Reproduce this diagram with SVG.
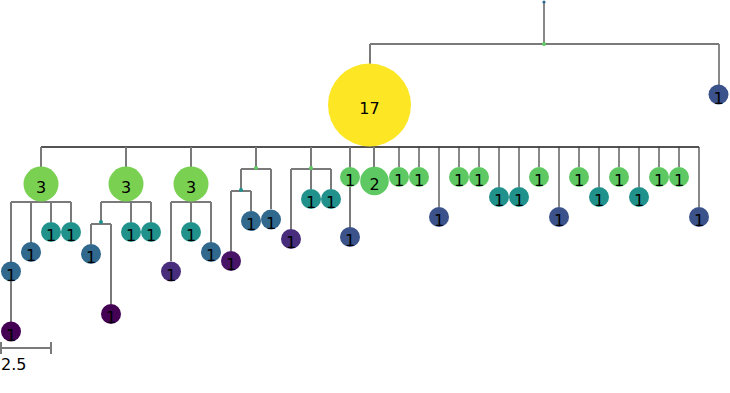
<svg xmlns="http://www.w3.org/2000/svg" width="730" height="393" viewBox="0 0 730 393">
<style>
.g{stroke:#7a7a7a;stroke-width:2;fill:none}
.d{stroke:#3a3a3a;stroke-width:1.2;fill:none}
.k{stroke:#1a1a1a;stroke-width:1.5;fill:none}
text{font-family:"DejaVu Sans",sans-serif;font-size:16px;fill:#000;text-anchor:middle}
.yel{fill:#fde725}.lg{fill:#7ad151}.gr{fill:#5ec962}.te{fill:#21918c}.bl{fill:#31688e}.db{fill:#3b528b}.pu{fill:#472d7b}.dp{fill:#440154}.dp2{fill:#481467}
</style>
<g id="connectors">
<path class="d" d="M544,2V44M719,44V85"/>
<path class="g" d="M370,44H719M370,44V64"/>
<path class="k" d="M41,147H699"/>
<path class="g" d="M41,147V167M126,147V167M191,147V167M256,147V169M311,147V169M350,147V237M374,147V167"/>
<path class="d" d="M399,147V167M419,147V167M439,147V207M459,147V167M479,147V167M499,147V187M519,147V187M539,147V167M559,147V207M579,147V167M599,147V187M619,147V167M639,147V187M659,147V167M679,147V167M699,147V207"/>
<path class="g" d="M11,202H71M11,202V331M31,202V243M51,202V222M71,202V222"/>
<path class="g" d="M101,202H151M101,202V224M91,224H111M91,224V244M111,224V304M131,202V222M151,202V222"/>
<path class="g" d="M171,202H211M171,202V261M191,202V222M211,202V242"/>
<path class="g" d="M241,169H271M241,169V191M231,191H251M231,191V251M251,191V211M271,169V209"/>
<path class="g" d="M291,169H331M291,169V229M311,169V189M331,169V189"/>
<path class="g" d="M1,348H51M1,342V354M51,342V354"/>
<circle cx="544" cy="2" r="1.6" class="bl"/>
<circle cx="544" cy="44" r="2" class="gr"/>
<circle cx="256" cy="168" r="2" class="gr"/>
<circle cx="311" cy="168" r="2" class="gr"/>
<circle cx="241" cy="190" r="2" class="te"/>
<circle cx="101" cy="222" r="2" class="te"/>
</g>
<g id="n17"><circle cx="369.5" cy="105" r="41.5" class="yel"/><text x="369.5" y="114">17</text></g>
<g id="nr"><circle cx="718.5" cy="94.5" r="10" class="db"/><text x="718.5" y="103.5">1</text></g>
<g id="a3"><circle cx="41" cy="184" r="17.5" class="lg"/><text x="41" y="193">3</text></g>
<g id="a1"><circle cx="11" cy="271.5" r="10" class="bl"/><text x="11" y="280.5">1</text></g>
<g id="a2"><circle cx="11" cy="331.5" r="10" class="dp"/><text x="11" y="340.5">1</text></g>
<g id="a4"><circle cx="31" cy="252" r="10" class="bl"/><text x="31" y="261">1</text></g>
<g id="a5"><circle cx="51" cy="232" r="10" class="te"/><text x="51" y="241">1</text></g>
<g id="a6"><circle cx="71" cy="232" r="10" class="te"/><text x="71" y="241">1</text></g>
<g id="b3"><circle cx="126" cy="184" r="17.5" class="lg"/><text x="126" y="193">3</text></g>
<g id="b1"><circle cx="91" cy="254" r="10" class="bl"/><text x="91" y="263">1</text></g>
<g id="b2"><circle cx="111" cy="314" r="10" class="dp"/><text x="111" y="323">1</text></g>
<g id="b4"><circle cx="131" cy="232" r="10" class="te"/><text x="131" y="241">1</text></g>
<g id="b5"><circle cx="151" cy="232" r="10" class="te"/><text x="151" y="241">1</text></g>
<g id="c3"><circle cx="191" cy="184" r="17.5" class="lg"/><text x="191" y="193">3</text></g>
<g id="c1"><circle cx="171" cy="271.5" r="10" class="pu"/><text x="171" y="280.5">1</text></g>
<g id="c2"><circle cx="191" cy="232" r="10" class="te"/><text x="191" y="241">1</text></g>
<g id="c4"><circle cx="211" cy="252" r="10" class="bl"/><text x="211" y="261">1</text></g>
<g id="d1"><circle cx="231" cy="261" r="10" class="dp2"/><text x="231" y="270">1</text></g>
<g id="d2"><circle cx="251" cy="221" r="10" class="bl"/><text x="251" y="230">1</text></g>
<g id="d3"><circle cx="271" cy="219.5" r="10" class="bl"/><text x="271" y="228.5">1</text></g>
<g id="e1"><circle cx="291" cy="239" r="10" class="pu"/><text x="291" y="248">1</text></g>
<g id="e2"><circle cx="311" cy="199" r="10" class="te"/><text x="311" y="208">1</text></g>
<g id="e3"><circle cx="331" cy="199" r="10" class="te"/><text x="331" y="208">1</text></g>
<g id="f1"><circle cx="350" cy="177" r="10" class="gr"/><text x="350" y="186">1</text></g>
<g id="f2"><circle cx="350" cy="237" r="10" class="db"/><text x="350" y="246">1</text></g>
<g id="f3"><circle cx="374.5" cy="181" r="14.3" class="gr"/><text x="374.5" y="189.5">2</text></g>
<g id="g1"><circle cx="399" cy="177" r="10" class="gr"/><text x="399" y="186">1</text></g>
<g id="g2"><circle cx="419" cy="177" r="10" class="gr"/><text x="419" y="186">1</text></g>
<g id="g3"><circle cx="439" cy="217" r="10" class="db"/><text x="439" y="226">1</text></g>
<g id="g4"><circle cx="459" cy="177" r="10" class="gr"/><text x="459" y="186">1</text></g>
<g id="g5"><circle cx="479" cy="177" r="10" class="gr"/><text x="479" y="186">1</text></g>
<g id="g6"><circle cx="499" cy="197" r="10" class="te"/><text x="499" y="206">1</text></g>
<g id="g7"><circle cx="519" cy="197" r="10" class="te"/><text x="519" y="206">1</text></g>
<g id="g8"><circle cx="539" cy="177" r="10" class="gr"/><text x="539" y="186">1</text></g>
<g id="g9"><circle cx="559" cy="217" r="10" class="db"/><text x="559" y="226">1</text></g>
<g id="g10"><circle cx="579" cy="177" r="10" class="gr"/><text x="579" y="186">1</text></g>
<g id="g11"><circle cx="599" cy="197" r="10" class="te"/><text x="599" y="206">1</text></g>
<g id="g12"><circle cx="619" cy="177" r="10" class="gr"/><text x="619" y="186">1</text></g>
<g id="g13"><circle cx="639" cy="197" r="10" class="te"/><text x="639" y="206">1</text></g>
<g id="g14"><circle cx="659" cy="177" r="10" class="gr"/><text x="659" y="186">1</text></g>
<g id="g15"><circle cx="679" cy="177" r="10" class="gr"/><text x="679" y="186">1</text></g>
<g id="g16"><circle cx="699" cy="217" r="10" class="db"/><text x="699" y="226">1</text></g>
<g id="scale"><text x="1" y="369.5" style="text-anchor:start">2.5</text></g>
</svg>
